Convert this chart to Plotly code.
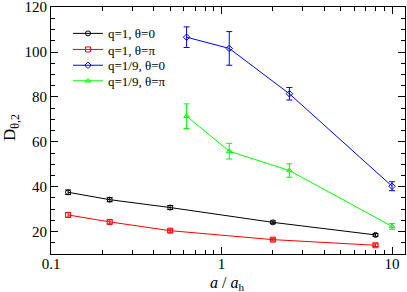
import plotly.graph_objects as go

x_q1 = [0.126, 0.221, 0.5, 2.0, 8.0]
y_q1_t0 = [37.5, 34.2, 30.7, 24.1, 18.5]
e_q1_t0 = [1.0, 0.9, 0.9, 0.6, 0.6]
y_q1_tpi = [27.4, 24.3, 20.4, 16.4, 13.9]
e_q1_tpi = [1.0, 0.9, 0.7, 0.6, 0.6]

x_q9 = [0.624, 1.11, 2.5, 10.0]
y_q9_t0 = [106.6, 101.6, 81.4, 40.2]
e_q9_t0 = [4.6, 7.5, 2.8, 2.0]
y_q9_tpi = [71.4, 55.8, 47.2, 22.3]
e_q9_tpi = [5.5, 3.5, 3.0, 1.3]

names = ["q=1, θ=0", "q=1, θ=π", "q=1/9, θ=0", "q=1/9, θ=π"]
colors = ["#000000", "#ff0000", "#0000ff", "#00ff00"]
symbols = ["circle-open", "square-open", "diamond-open", "triangle-up-open"]

series = [(x_q1, y_q1_t0, e_q1_t0), (x_q1, y_q1_tpi, e_q1_tpi),
          (x_q9, y_q9_t0, e_q9_t0), (x_q9, y_q9_tpi, e_q9_tpi)]

serif = "Liberation Serif"
legend_ids = ["legend", "legend2", "legend3", "legend4"]
legend_y = [0.893, 0.828, 0.764, 0.701]

fig = go.Figure()
for (xs, ys, es), n, c, s, lg in zip(series, names, colors, symbols, legend_ids):
    fig.add_trace(go.Scatter(
        x=xs, y=ys, name=n, mode="lines+markers", legend=lg,
        line=dict(color=c, width=1),
        marker=dict(symbol=s, size=5, color=c, line=dict(color=c, width=1)),
        error_y=dict(type="data", array=es, visible=True, color=c, thickness=1, width=3),
    ))

legends = {}
for lg, ly in zip(legend_ids, legend_y):
    legends[lg] = dict(x=0.048, y=ly, xanchor="left", yanchor="middle",
                       bgcolor="rgba(0,0,0,0)", borderwidth=0,
                       font=dict(family=serif, size=13, color="black"))

fig.update_layout(
    width=407, height=292,
    margin=dict(l=51, r=2, t=7, b=38),
    paper_bgcolor="white", plot_bgcolor="white",
    font=dict(family=serif, size=14, color="black"),
    showlegend=True,
    **legends,
    annotations=[
        dict(text="<i>a</i> / <i>a</i><sub>h</sub>", xref="paper", yref="paper",
             x=0.497, y=0, yshift=-18, xanchor="center", yanchor="top",
             showarrow=False, font=dict(family=serif, size=16)),
        dict(text="D<sub>θ,2</sub>", xref="paper", yref="paper",
             x=0, xshift=-40, y=0.51, xanchor="center", yanchor="middle",
             textangle=-90, showarrow=False, font=dict(family=serif, size=17)),
    ],
)
fig.update_xaxes(
    type="log", range=[-1, 1.076], automargin=False,
    tickvals=[0.1, 1, 10], ticktext=["0.1", "1", "10"],
    ticks="inside", ticklen=7, tickcolor="black",
    minor=dict(ticks="inside", ticklen=4, tickcolor="black",
               tickvals=[0.2, 0.3, 0.4, 0.5, 0.6, 0.7, 0.8, 0.9,
                         2, 3, 4, 5, 6, 7, 8, 9]),
    showline=True, linecolor="black", linewidth=1, mirror="ticks",
    showgrid=False, zeroline=False, ticklabeloverflow="allow",
    ticklabelstandoff=-4,
    tickfont=dict(family=serif, size=15),
)
fig.update_yaxes(
    range=[10, 120.05], automargin=False, tickvals=[20, 40, 60, 80, 100, 120],
    ticks="inside", ticklen=7, tickcolor="black",
    minor=dict(ticks="inside", ticklen=4, tickcolor="black", dtick=5, tick0=0),
    showline=True, linecolor="black", linewidth=1, mirror="ticks",
    showgrid=False, zeroline=False, ticklabeloverflow="allow",
    tickfont=dict(family=serif, size=15),
)

fig.write_html("out.html", config={"displayModeBar": False},
               post_script="document.body.style.margin='0';")
